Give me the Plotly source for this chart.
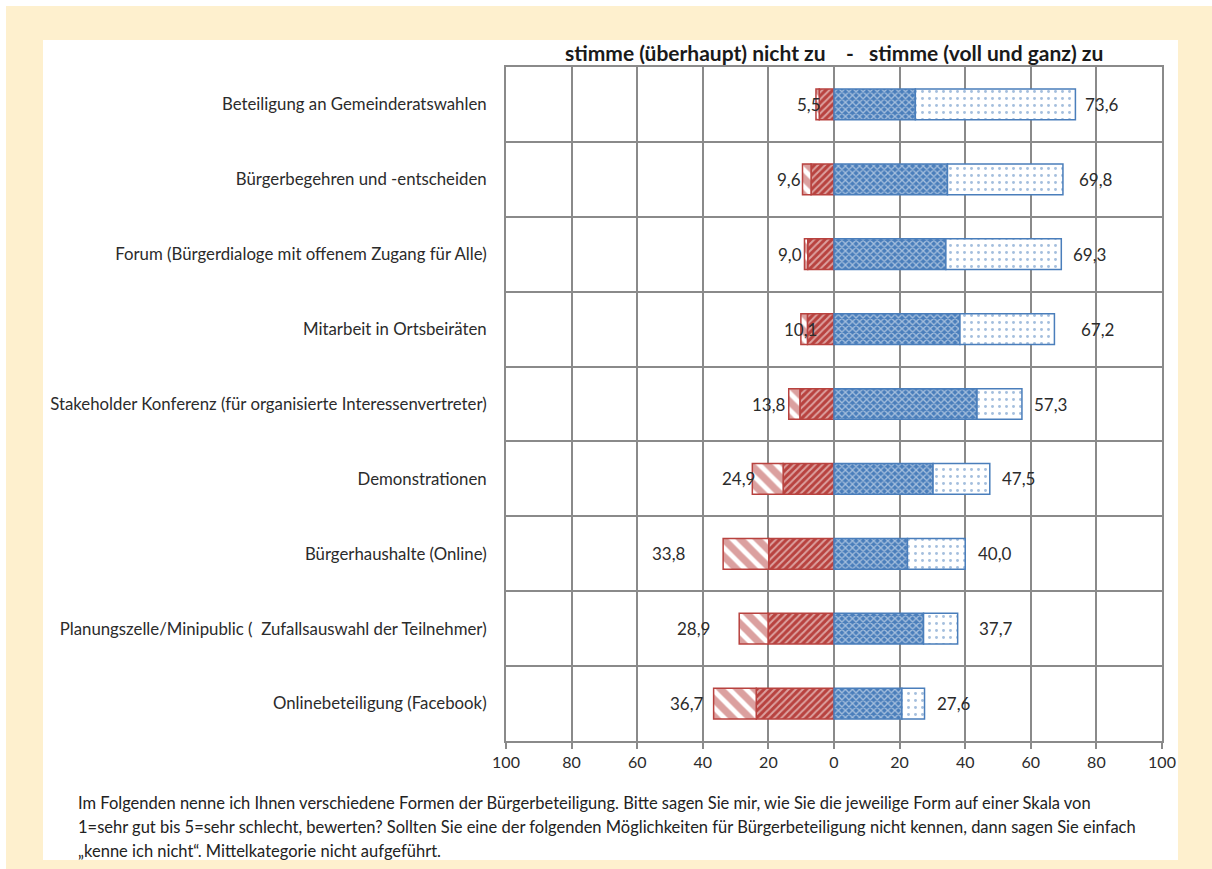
import plotly.graph_objects as go

categories = [
    "Beteiligung an Gemeinderatswahlen",
    "Bürgerbegehren und -entscheiden",
    "Forum (Bürgerdialoge mit offenem Zugang für Alle)",
    "Mitarbeit in Ortsbeiräten",
    "Stakeholder Konferenz (für organisierte Interessenvertreter)",
    "Demonstrationen",
    "Bürgerhaushalte (Online)",
    "Planungszelle/Minipublic (  Zufallsauswahl der Teilnehmer)",
    "Onlinebeteiligung (Facebook)",
]
# disagree shares (inner, next to 0) and strongly disagree (outer)
stimme_nicht_zu = [4.5, 7.0, 8.0, 8.1, 10.4, 15.5, 19.9, 20.1, 23.7]
stimme_ueberhaupt_nicht_zu = [1.0, 2.6, 1.0, 2.0, 3.4, 9.4, 13.9, 8.8, 13.0]
# fully agree (inner) and agree (outer)
stimme_voll_zu = [24.8, 34.6, 34.1, 38.4, 43.6, 30.2, 22.4, 27.3, 20.7]
stimme_zu = [48.8, 35.2, 35.2, 28.8, 13.7, 17.3, 17.6, 10.4, 6.9]
total_neg = [5.5, 9.6, 9.0, 10.1, 13.8, 24.9, 33.8, 28.9, 36.7]
total_pos = [73.6, 69.8, 69.3, 67.2, 57.3, 47.5, 40.0, 37.7, 27.6]
tick_vals = [-100, -80, -60, -40, -20, 0, 20, 40, 60, 80, 100]
tick_text = ["100", "80", "60", "40", "20", "0", "20", "40", "60", "80", "100"]

title_text = "stimme (überhaupt) nicht zu    -   stimme (voll und ganz) zu"
footnote = [
    "Im Folgenden nenne ich Ihnen verschiedene Formen der Bürgerbeteiligung. Bitte sagen Sie mir, wie Sie die jeweilige Form auf einer Skala von",
    "1=sehr gut bis 5=sehr schlecht, bewerten? Sollten Sie eine der folgenden Möglichkeiten für Bürgerbeteiligung nicht kennen, dann sagen Sie einfach",
    "„kenne ich nicht“. Mittelkategorie nicht aufgeführt.",
]

RED = "#B8423F"
BLUE = "#4A7EBB"
GRID = "#8A8A8A"
TXT = "#2B2B2B"
FONT = "Lato"

fig = go.Figure()
bw = 0.41
fig.add_trace(go.Bar(
    y=categories, x=[-v for v in stimme_nicht_zu], orientation="h", width=bw,
    marker=dict(color=RED, line=dict(color=RED, width=1.5),
                pattern=dict(shape="/", fgcolor="white", bgcolor=RED, size=5, solidity=0.4)),
    showlegend=False, hoverinfo="skip"))
fig.add_trace(go.Bar(
    y=categories, x=[-v for v in stimme_ueberhaupt_nicht_zu], orientation="h", width=bw,
    marker=dict(color="white", line=dict(color=RED, width=1.5),
                pattern=dict(shape="\\", fgcolor=RED, bgcolor="white", size=12, solidity=0.6)),
    showlegend=False, hoverinfo="skip"))
fig.add_trace(go.Bar(
    y=categories, x=stimme_voll_zu, orientation="h", width=bw,
    marker=dict(color=BLUE, line=dict(color=BLUE, width=1.5),
                pattern=dict(shape="x", fgcolor="white", bgcolor=BLUE, size=5, solidity=0.45)),
    showlegend=False, hoverinfo="skip"))
fig.add_trace(go.Bar(
    y=categories, x=stimme_zu, orientation="h", width=bw,
    marker=dict(color="white", line=dict(color=BLUE, width=1.5),
                pattern=dict(shape=".", fgcolor=BLUE, bgcolor="white", size=7, solidity=0.14)),
    showlegend=False, hoverinfo="skip"))

annotations = []
off_r = [8, 14, 10, 25, 10, 10, 11, 19, 10]
off_l = [7, 0, 0, 18, -1, 5, -35, -27, -8]
fmt = lambda v: f"{v:.1f}".replace(".", ",")
for i, c in enumerate(categories):
    annotations.append(dict(x=total_pos[i], y=c, xref="x", yref="y", text=fmt(total_pos[i]),
                            showarrow=False, xanchor="left", xshift=off_r[i],
                            font=dict(family=FONT, size=17, color=TXT)))
    annotations.append(dict(x=-total_neg[i], y=c, xref="x", yref="y", text=fmt(total_neg[i]),
                            showarrow=False, xanchor="right", xshift=off_l[i],
                            font=dict(family=FONT, size=17, color=TXT)))

# title
annotations.append(dict(x=0.5, y=1.022, xref="paper", yref="paper", text="<b>" + title_text + "</b>",
                        showarrow=False, xanchor="center", yanchor="middle",
                        font=dict(family=FONT, size=21, color="#1a1a1a")))
# footnote lines
PW, PH, L, B = 656, 674, 506, 741
for k, line in enumerate(footnote):
    py = 803 + k * 24
    annotations.append(dict(x=(76 - L) / PW, y=(B - py) / PH, xref="paper", yref="paper",
                            text=line, showarrow=False, xanchor="left", yanchor="middle",
                            font=dict(family=FONT, size=16.5, color="#222222")))

shapes = [
    dict(type="rect", xref="paper", yref="paper", layer="below",
         x0=(6 - L) / PW, x1=(1212 - L) / PW, y0=(B - 869) / PH, y1=(B - 6) / PH,
         fillcolor="#FEF0CE", line=dict(width=0)),
    dict(type="rect", xref="paper", yref="paper", layer="below",
         x0=(43 - L) / PW, x1=(1178 - L) / PW, y0=(B - 860) / PH, y1=(B - 40) / PH,
         fillcolor="white", line=dict(width=0)),
]

fig.update_layout(
    width=1212, height=869,
    margin=dict(l=506, r=50, t=67, b=128, autoexpand=False),
    barmode="relative",
    paper_bgcolor="white", plot_bgcolor="white",
    font=dict(family=FONT, size=15, color=TXT),
    annotations=annotations, shapes=shapes,
    xaxis=dict(range=[-100, 100], tickvals=tick_vals, ticktext=tick_text,
               showgrid=True, gridcolor=GRID, gridwidth=2, zeroline=False,
               showline=True, linecolor=GRID, linewidth=2, mirror=True,
               ticks="outside", ticklen=6, tickcolor=GRID, tickwidth=2,
               tickfont=dict(family=FONT, size=16, color=TXT)),
    yaxis=dict(type="category", autorange="reversed", tickson="boundaries",
               showgrid=True, gridcolor=GRID, gridwidth=2, zeroline=False,
               showline=True, linecolor=GRID, linewidth=2, mirror=True,
               ticks="", ticklabelstandoff=14,
               tickfont=dict(family=FONT, size=16.8, color=TXT)),
)

fig.write_html("out.html")
